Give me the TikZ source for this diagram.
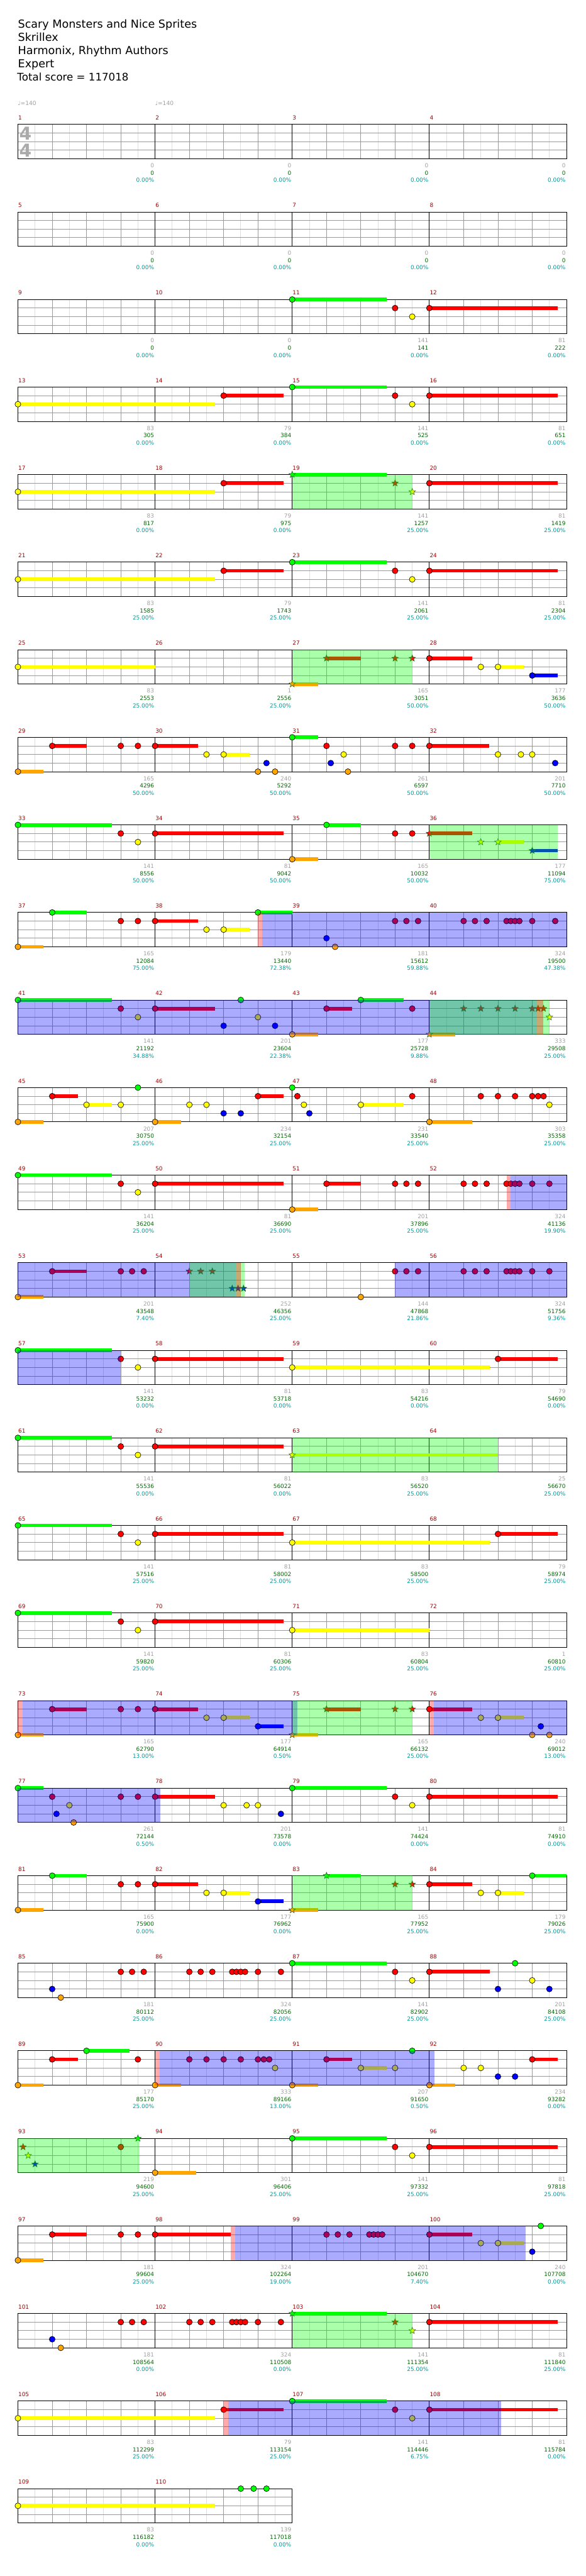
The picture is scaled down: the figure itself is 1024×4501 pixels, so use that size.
\documentclass[tikz,border=0pt]{standalone}
\usepackage{fontspec}
\setmainfont{DejaVu Sans}
\usetikzlibrary{shapes.geometric}
\definecolor{ln0}{HTML}{00FF00}
\definecolor{ln1}{HTML}{FF0000}
\definecolor{ln2}{HTML}{FFFF00}
\definecolor{ln3}{HTML}{0000FF}
\definecolor{ln4}{HTML}{FFA500}
\definecolor{gridq}{HTML}{999999}
\definecolor{gride}{HTML}{DDDDDD}
\definecolor{mnumc}{HTML}{990000}
\definecolor{statgray}{HTML}{A0A0A0}
\definecolor{statgreen}{HTML}{006600}
\definecolor{statteal}{HTML}{009999}
\definecolor{stargreen}{HTML}{1E5A1E}
\definecolor{tsig}{HTML}{AAAAAA}
\tikzset{
  nhead/.style={circle, draw=black, line width=0.7pt, minimum size=10.2pt, inner sep=0pt},
  nstar/.style={star, star points=5, star point ratio=2.3, draw=stargreen, line width=0.6pt, minimum size=12pt, inner sep=0pt},
  gE/.style={gride, line width=1pt},
  gQ/.style={gridq, line width=1pt},
  barl/.style={black, line width=1pt},
  mnum/.style={anchor=base west, inner sep=0pt, text=mnumc, font=\fontsize{9.8}{10}\selectfont},
  stA/.style={anchor=base east, inner sep=0pt, text=statgray, font=\fontsize{9.8}{10}\selectfont},
  stB/.style={anchor=base east, inner sep=0pt, text=statgreen, font=\fontsize{9.8}{10}\selectfont},
  stC/.style={anchor=base east, inner sep=0pt, text=statteal, font=\fontsize{9.8}{10}\selectfont},
  titl/.style={anchor=base west, inner sep=0pt, font=\fontsize{19.3}{22}\selectfont}
}
\newcommand\bx[1]{31.3+59.925*(#1)}
\newcommand\ly[2]{217.3+153*(#1)+15*(#2)}
\newcommand\nHead[3]{\node[nhead, fill=ln#3] at ({\bx{#2}},{\ly{#1}{#3}}) {};}
\newcommand\nSus[4]{\fill[ln#3] ({\bx{#2}},{\ly{#1}{#3}-3.2}) rectangle ({\bx{#4}},{\ly{#1}{#3}+3.2});\nHead{#1}{#2}{#3}}
\newcommand\nStar[3]{\node[nstar, fill=ln#3] at ({\bx{#2}},{\ly{#1}{#3}}) {};}
\newcommand\nStarSus[4]{\fill[ln#3] ({\bx{#2}},{\ly{#1}{#3}-3.2}) rectangle ({\bx{#4}},{\ly{#1}{#3}+3.2});\nStar{#1}{#2}{#3}}
\newcommand\spG[3]{\fill[green, opacity=0.333] ({\bx{#2}},{\ly{#1}{0}}) rectangle ({\bx{#3}},{\ly{#1}{4}});}
\newcommand\spB[3]{\fill[blue, opacity=0.333] ({\bx{#2}},{\ly{#1}{0}}) rectangle ({\bx{#3}},{\ly{#1}{4}});}
\newcommand\spR[3]{\fill[red, opacity=0.333] ({\bx{#2}},{\ly{#1}{0}}) rectangle ({\bx{#3}},{\ly{#1}{4}});}
\newcommand\mStats[5]{%
  \node[stA] at ({31.3+239.7*(#2)-1.5},{217.3+153*(#1)+75.5}) {#3};
  \node[stB] at ({31.3+239.7*(#2)-1.5},{217.3+153*(#1)+88.5}) {#4};
  \node[stC] at ({31.3+239.7*(#2)-1.5},{217.3+153*(#1)+101}) {#5\%};}
\newcommand\drawStaff[3]{%
  \pgfmathsetmacro\ty{217.3+153*#1}
  \pgfmathtruncatemacro\ne{8*#2}
  \pgfmathtruncatemacro\nq{4*#2}
  \pgfmathtruncatemacro\nm{#2-1}
  \pgfmathsetmacro\xr{31.3+239.7*#2}
  \foreach \i in {1,...,\ne} {\draw[gE] ({31.3+29.9625*\i},\ty) -- ++(0,60);}
  \foreach \i in {1,...,\nq} {\draw[gQ] ({31.3+59.925*\i},\ty) -- ++(0,60);}
  \foreach \j in {1,2,3} {\draw[gQ] (31.3,{\ty+15*\j}) -- (\xr,{\ty+15*\j});}
  \foreach \k in {0,...,\nm} {%
    \draw[barl] ({31.3+239.7*\k},\ty) -- ++(0,60);
    \pgfmathtruncatemacro\mn{#3+\k}
    \node[mnum] at ({31.8+239.7*\k},{\ty-8}) {\mn};}
  \draw[barl] (31.3,\ty) rectangle (\xr,{\ty+60});
}
\begin{document}
\begin{tikzpicture}[x=1pt,y=-1pt]
\useasboundingbox (0,0) rectangle (1024,4501);
\fill[white] (0,0) rectangle (1024,4501);
% header
\node[titl] (t1) at (31.3,49.3) {Scary Monsters and Nice Sprites};
\node[titl] (t2) at (31.3,72.3) {Skrillex};
\node[titl] (t3) at (31.3,95.3) {Harmonix, Rhythm Authors};
\node[titl] (t4) at (31.3,118.3) {Expert};
\node[titl, font=\fontsize{18.3}{22}\selectfont] (t5) at (30,141.3) {Total score = 117018};
\node[anchor=base west, inner sep=0pt, text=statgray, font=\fontsize{10}{10}\selectfont] (tp1) at (31,184) {♩=140};
\node[anchor=base west, inner sep=0pt, text=statgray, font=\fontsize{10}{10}\selectfont] (tp2) at (271,184) {♩=140};
% row 0
\drawStaff{0}{4}{1}
\node[text=tsig, font=\bfseries\fontsize{31}{31}\selectfont, inner sep=0pt] (ts1) at (44.5,233.6) {4};
\node[text=tsig, font=\bfseries\fontsize{31}{31}\selectfont, inner sep=0pt] (ts2) at (44.5,262.6) {4};
\mStats{0}{1}{0}{0}{0.00}\mStats{0}{2}{0}{0}{0.00}\mStats{0}{3}{0}{0}{0.00}\mStats{0}{4}{0}{0}{0.00}
% row 1
\drawStaff{1}{4}{5}
\mStats{1}{1}{0}{0}{0.00}\mStats{1}{2}{0}{0}{0.00}\mStats{1}{3}{0}{0}{0.00}\mStats{1}{4}{0}{0}{0.00}
% row 2
\drawStaff{2}{4}{9}
\nSus{2}{8}{0}{10.75}\nHead{2}{11}{1}\nHead{2}{11.5}{2}\nSus{2}{12}{1}{15.74}
\mStats{2}{1}{0}{0}{0.00}\mStats{2}{2}{0}{0}{0.00}\mStats{2}{3}{141}{141}{0.00}\mStats{2}{4}{81}{222}{0.00}
% row 3
\drawStaff{3}{4}{13}
\nSus{3}{0}{2}{5.75}\nSus{3}{6}{1}{7.75}\nSus{3}{8}{0}{10.75}\nHead{3}{11}{1}\nHead{3}{11.5}{2}\nSus{3}{12}{1}{15.74}
\mStats{3}{1}{83}{305}{0.00}\mStats{3}{2}{79}{384}{0.00}\mStats{3}{3}{141}{525}{0.00}\mStats{3}{4}{81}{651}{0.00}
% row 4
\drawStaff{4}{4}{17}
\nSus{4}{0}{2}{5.75}\nSus{4}{6}{1}{7.75}\nStarSus{4}{8}{0}{10.75}\nStar{4}{11}{1}\nStar{4}{11.5}{2}\nSus{4}{12}{1}{15.74}
\spG{4}{8}{11.5}
\mStats{4}{1}{83}{817}{0.00}\mStats{4}{2}{79}{975}{0.00}\mStats{4}{3}{141}{1257}{25.00}\mStats{4}{4}{81}{1419}{25.00}
% row 5
\drawStaff{5}{4}{21}
\nSus{5}{0}{2}{5.75}\nSus{5}{6}{1}{7.75}\nSus{5}{8}{0}{10.75}\nHead{5}{11}{1}\nHead{5}{11.5}{2}\nSus{5}{12}{1}{15.74}
\mStats{5}{1}{83}{1585}{25.00}\mStats{5}{2}{79}{1743}{25.00}\mStats{5}{3}{141}{2061}{25.00}\mStats{5}{4}{81}{2304}{25.00}
% row 6
\drawStaff{6}{4}{25}
\nSus{6}{0}{2}{4}\nStarSus{6}{8}{4}{8.75}\nStarSus{6}{9}{1}{10}\nStar{6}{11}{1}\nStar{6}{11.5}{1}
\nSus{6}{12}{1}{13.25}\nHead{6}{13.5}{2}\nSus{6}{14}{2}{14.75}\nSus{6}{15}{3}{15.74}
\spG{6}{8}{11.5}
\mStats{6}{1}{83}{2553}{25.00}\mStats{6}{2}{1}{2556}{25.00}\mStats{6}{3}{165}{3051}{50.00}\mStats{6}{4}{177}{3636}{50.00}
% row 7
\drawStaff{7}{4}{29}
\nSus{7}{0}{4}{0.75}\nSus{7}{1}{1}{2}\nHead{7}{3}{1}\nHead{7}{3.5}{1}\nSus{7}{4}{1}{5.25}\nHead{7}{5.5}{2}\nSus{7}{6}{2}{6.75}
\nHead{7}{7}{4}\nHead{7}{7.25}{3}\nHead{7}{7.5}{4}\nSus{7}{8}{0}{8.75}\nHead{7}{9}{1}\nHead{7}{9.125}{3}\nHead{7}{9.5}{2}\nHead{7}{9.625}{4}
\nHead{7}{11}{1}\nHead{7}{11.5}{1}\nSus{7}{12}{1}{13.75}\nHead{7}{14}{2}\nHead{7}{14.67}{2}\nHead{7}{15}{2}\nHead{7}{15.67}{3}
\mStats{7}{1}{165}{4296}{50.00}\mStats{7}{2}{240}{5292}{50.00}\mStats{7}{3}{261}{6597}{50.00}\mStats{7}{4}{201}{7710}{50.00}
% row 8
\drawStaff{8}{4}{33}
\nSus{8}{0}{0}{2.75}\nHead{8}{3}{1}\nHead{8}{3.5}{2}\nSus{8}{4}{1}{7.74}\nSus{8}{8}{4}{8.75}\nSus{8}{9}{0}{10}\nHead{8}{11}{1}\nHead{8}{11.5}{1}
\nStarSus{8}{12}{1}{13.25}\nStar{8}{13.5}{2}\nStarSus{8}{14}{2}{14.75}\nStarSus{8}{15}{3}{15.74}
\spG{8}{12}{15.74}
\mStats{8}{1}{141}{8556}{50.00}\mStats{8}{2}{81}{9042}{50.00}\mStats{8}{3}{165}{10032}{50.00}\mStats{8}{4}{177}{11094}{75.00}
% row 9
\drawStaff{9}{4}{37}
\nSus{9}{0}{4}{0.75}\nSus{9}{1}{0}{2}\nHead{9}{3}{1}\nHead{9}{3.5}{1}\nSus{9}{4}{1}{5.25}\nHead{9}{5.5}{2}\nSus{9}{6}{2}{6.75}\nSus{9}{7}{0}{8}
\nHead{9}{9}{3}\nHead{9}{9.25}{4}
\foreach \b in {11,11.33,11.67,13,13.33,13.67,14.25,14.375,14.5,14.625,15,15.67} {\nHead{9}{\b}{1}}
\spR{9}{7}{7.13}\spB{9}{7.13}{16}
\mStats{9}{1}{165}{12084}{75.00}\mStats{9}{2}{179}{13440}{72.38}\mStats{9}{3}{181}{15612}{59.88}\mStats{9}{4}{324}{19500}{47.38}
% row 10
\drawStaff{10}{4}{41}
\nSus{10}{0}{0}{2.75}\nHead{10}{3}{1}\nHead{10}{3.5}{2}\nSus{10}{4}{1}{5.75}\nHead{10}{6}{3}\nHead{10}{6.5}{0}\nHead{10}{7}{2}\nHead{10}{7.5}{3}
\nSus{10}{8}{4}{8.75}\nSus{10}{9}{1}{9.75}\nSus{10}{10}{0}{11.25}\nHead{10}{11.5}{1}\nStarSus{10}{12}{4}{12.75}
\foreach \b in {13,13.5,14,14.5,15,15.17,15.33} {\nStar{10}{\b}{1}}
\nStar{10}{15.5}{2}
\spB{10}{0}{15.14}\spG{10}{12}{15.5}\spR{10}{15.14}{15.33}
\mStats{10}{1}{141}{21192}{34.88}\mStats{10}{2}{201}{23604}{22.38}\mStats{10}{3}{177}{25728}{9.88}\mStats{10}{4}{333}{29508}{25.00}
% row 11
\drawStaff{11}{4}{45}
\nSus{11}{0}{4}{0.75}\nSus{11}{1}{1}{1.75}\nSus{11}{2}{2}{2.75}\nHead{11}{3}{2}\nHead{11}{3.5}{0}\nSus{11}{4}{4}{4.75}
\nHead{11}{5}{2}\nHead{11}{5.5}{2}\nHead{11}{6}{3}\nHead{11}{6.5}{3}\nSus{11}{7}{1}{7.75}\nHead{11}{8}{0}\nHead{11}{8.15}{1}\nHead{11}{8.34}{2}\nHead{11}{8.5}{3}
\nSus{11}{10}{2}{11.25}\nHead{11}{11.5}{1}\nSus{11}{12}{4}{13.25}
\foreach \b in {13.5,14,14.5,15,15.17,15.33} {\nHead{11}{\b}{1}}
\nHead{11}{15.5}{2}
\mStats{11}{1}{207}{30750}{25.00}\mStats{11}{2}{234}{32154}{25.00}\mStats{11}{3}{231}{33540}{25.00}\mStats{11}{4}{303}{35358}{25.00}
% row 12
\drawStaff{12}{4}{49}
\nSus{12}{0}{0}{2.75}\nHead{12}{3}{1}\nHead{12}{3.5}{2}\nSus{12}{4}{1}{7.74}\nSus{12}{8}{4}{8.75}\nSus{12}{9}{1}{10}
\foreach \b in {11,11.33,11.67,13,13.33,13.67,14.25,14.375,14.5,14.625,15,15.5} {\nHead{12}{\b}{1}}
\spR{12}{14.26}{14.37}\spB{12}{14.37}{16}
\mStats{12}{1}{141}{36204}{25.00}\mStats{12}{2}{81}{36690}{25.00}\mStats{12}{3}{201}{37896}{25.00}\mStats{12}{4}{324}{41136}{19.90}
% row 13
\drawStaff{13}{4}{53}
\nSus{13}{0}{4}{0.75}\nSus{13}{1}{1}{2}\nHead{13}{3}{1}\nHead{13}{3.33}{1}\nHead{13}{3.67}{1}
\nStar{13}{5}{1}\nStar{13}{5.33}{1}\nStar{13}{5.67}{1}\nStar{13}{6.25}{3}\nStar{13}{6.42}{3}\nStar{13}{6.58}{3}
\nHead{13}{10}{4}
\foreach \b in {11,11.33,11.67,13,13.33,13.67,14.25,14.375,14.5,14.625,15,15.5} {\nHead{13}{\b}{1}}
\spB{13}{0}{6.36}\spG{13}{5}{6.61}\spR{13}{6.36}{6.5}\spB{13}{11}{16}
\mStats{13}{1}{201}{43548}{7.40}\mStats{13}{2}{252}{46356}{25.00}\mStats{13}{3}{144}{47868}{21.86}\mStats{13}{4}{324}{51756}{9.36}
% row 14
\drawStaff{14}{4}{57}
\nSus{14}{0}{0}{2.75}\nHead{14}{3}{1}\nHead{14}{3.5}{2}\nSus{14}{4}{1}{7.74}\nSus{14}{8}{2}{13.76}\nSus{14}{14}{1}{15.74}
\spB{14}{0}{3}
\mStats{14}{1}{141}{53232}{0.00}\mStats{14}{2}{81}{53718}{0.00}\mStats{14}{3}{83}{54216}{0.00}\mStats{14}{4}{79}{54690}{0.00}
% row 15
\drawStaff{15}{4}{61}
\nSus{15}{0}{0}{2.75}\nHead{15}{3}{1}\nHead{15}{3.5}{2}\nSus{15}{4}{1}{7.74}\nStarSus{15}{8}{2}{14}
\spG{15}{8}{14}
\mStats{15}{1}{141}{55536}{0.00}\mStats{15}{2}{81}{56022}{0.00}\mStats{15}{3}{83}{56520}{25.00}\mStats{15}{4}{25}{56670}{25.00}
% row 16
\drawStaff{16}{4}{65}
\nSus{16}{0}{0}{2.75}\nHead{16}{3}{1}\nHead{16}{3.5}{2}\nSus{16}{4}{1}{7.74}\nSus{16}{8}{2}{13.76}\nSus{16}{14}{1}{15.74}
\mStats{16}{1}{141}{57516}{25.00}\mStats{16}{2}{81}{58002}{25.00}\mStats{16}{3}{83}{58500}{25.00}\mStats{16}{4}{79}{58974}{25.00}
% row 17
\drawStaff{17}{4}{69}
\nSus{17}{0}{0}{2.75}\nHead{17}{3}{1}\nHead{17}{3.5}{2}\nSus{17}{4}{1}{7.74}\nSus{17}{8}{2}{12}
\mStats{17}{1}{141}{59820}{25.00}\mStats{17}{2}{81}{60306}{25.00}\mStats{17}{3}{83}{60804}{25.00}\mStats{17}{4}{1}{60810}{25.00}
% row 18
\drawStaff{18}{4}{73}
\nSus{18}{0}{4}{0.75}\nSus{18}{1}{1}{2}\nHead{18}{3}{1}\nHead{18}{3.5}{1}\nSus{18}{4}{1}{5.25}\nHead{18}{5.5}{2}\nSus{18}{6}{2}{6.75}\nSus{18}{7}{3}{7.74}
\nStarSus{18}{8}{4}{8.75}\nStarSus{18}{9}{1}{10}\nStar{18}{11}{1}\nStar{18}{11.5}{1}
\nSus{18}{12}{1}{13.25}\nHead{18}{13.5}{2}\nSus{18}{14}{2}{14.75}\nHead{18}{15}{4}\nHead{18}{15.25}{3}\nHead{18}{15.5}{4}
\spR{18}{0}{0.13}\spB{18}{0.13}{8.15}\spG{18}{8}{11.5}\spR{18}{12}{12.13}\spB{18}{12.13}{16}
\mStats{18}{1}{165}{62790}{13.00}\mStats{18}{2}{177}{64914}{0.50}\mStats{18}{3}{165}{66132}{25.00}\mStats{18}{4}{240}{69012}{13.00}
% row 19
\drawStaff{19}{4}{77}
\nSus{19}{0}{0}{0.75}\nHead{19}{1}{1}\nHead{19}{1.125}{3}\nHead{19}{1.5}{2}\nHead{19}{1.625}{4}\nHead{19}{3}{1}\nHead{19}{3.5}{1}\nSus{19}{4}{1}{5.75}
\nHead{19}{6}{2}\nHead{19}{6.67}{2}\nHead{19}{7}{2}\nHead{19}{7.67}{3}\nSus{19}{8}{0}{10.75}\nHead{19}{11}{1}\nHead{19}{11.5}{2}\nSus{19}{12}{1}{15.74}
\spB{19}{0}{4.15}
\mStats{19}{1}{261}{72144}{0.50}\mStats{19}{2}{201}{73578}{0.00}\mStats{19}{3}{141}{74424}{0.00}\mStats{19}{4}{81}{74910}{0.00}
% row 20
\drawStaff{20}{4}{81}
\nSus{20}{0}{4}{0.75}\nSus{20}{1}{0}{2}\nHead{20}{3}{1}\nHead{20}{3.5}{1}\nSus{20}{4}{1}{5.25}\nHead{20}{5.5}{2}\nSus{20}{6}{2}{6.75}\nSus{20}{7}{3}{7.74}
\nStarSus{20}{8}{4}{8.75}\nStarSus{20}{9}{0}{10}\nStar{20}{11}{1}\nStar{20}{11.5}{1}
\nSus{20}{12}{1}{13.25}\nHead{20}{13.5}{2}\nSus{20}{14}{2}{14.75}\nSus{20}{15}{0}{16}
\spG{20}{8}{11.5}
\mStats{20}{1}{165}{75900}{0.00}\mStats{20}{2}{177}{76962}{0.00}\mStats{20}{3}{165}{77952}{25.00}\mStats{20}{4}{179}{79026}{25.00}
% row 21
\drawStaff{21}{4}{85}
\nHead{21}{1}{3}\nHead{21}{1.25}{4}
\foreach \b in {3,3.33,3.67,5,5.33,5.67,6.25,6.375,6.5,6.625,7,7.67} {\nHead{21}{\b}{1}}
\nSus{21}{8}{0}{10.75}\nHead{21}{11}{1}\nHead{21}{11.5}{2}\nSus{21}{12}{1}{13.76}\nHead{21}{14}{3}\nHead{21}{14.5}{0}\nHead{21}{15}{2}\nHead{21}{15.5}{3}
\mStats{21}{1}{181}{80112}{25.00}\mStats{21}{2}{324}{82056}{25.00}\mStats{21}{3}{141}{82902}{25.00}\mStats{21}{4}{201}{84108}{25.00}
% row 22
\drawStaff{22}{4}{89}
\nSus{22}{0}{4}{0.75}\nSus{22}{1}{1}{1.75}\nSus{22}{2}{0}{3.25}\nHead{22}{3.5}{1}\nSus{22}{4}{4}{4.75}
\foreach \b in {5,5.5,6,6.5,7,7.17,7.33} {\nHead{22}{\b}{1}}
\nHead{22}{7.5}{2}\nSus{22}{8}{4}{8.75}\nSus{22}{9}{1}{9.75}\nSus{22}{10}{2}{10.75}\nHead{22}{11}{2}\nHead{22}{11.5}{0}\nSus{22}{12}{4}{12.75}
\nHead{22}{13}{2}\nHead{22}{13.5}{2}\nHead{22}{14}{3}\nHead{22}{14.5}{3}\nSus{22}{15}{1}{15.74}
\spR{22}{4}{4.14}\spB{22}{4.14}{12.15}
\mStats{22}{1}{177}{85170}{25.00}\mStats{22}{2}{333}{89166}{13.00}\mStats{22}{3}{207}{91650}{0.50}\mStats{22}{4}{234}{93282}{0.00}
% row 23 (approximate)
\drawStaff{23}{4}{93}
\nStar{23}{0.15}{1}\nStar{23}{0.3}{2}\nStar{23}{0.5}{3}\nHead{23}{3}{1}\nStar{23}{3.5}{0}\nSus{23}{4}{4}{5.2}
\nSus{23}{8}{0}{10.75}\nHead{23}{11}{1}\nHead{23}{11.5}{2}\nSus{23}{12}{1}{15.74}
\spG{23}{0}{3.55}
\mStats{23}{1}{219}{94600}{25.00}\mStats{23}{2}{301}{96406}{25.00}\mStats{23}{3}{141}{97332}{25.00}\mStats{23}{4}{81}{97818}{25.00}
% row 24 (approximate)
\drawStaff{24}{4}{97}
\nSus{24}{0}{4}{0.75}\nSus{24}{1}{1}{2}\nHead{24}{3}{1}\nHead{24}{3.5}{1}\nSus{24}{4}{1}{6.2}
\foreach \b in {9,9.33,9.67,10.25,10.375,10.5,10.625} {\nHead{24}{\b}{1}}
\nSus{24}{12}{1}{13.25}\nHead{24}{13.5}{2}\nSus{24}{14}{2}{14.75}\nHead{24}{15}{3}\nHead{24}{15.25}{0}
\spR{24}{6.2}{6.33}\spB{24}{6.33}{14.8}
\mStats{24}{1}{181}{99604}{25.00}\mStats{24}{2}{324}{102264}{19.00}\mStats{24}{3}{201}{104670}{7.40}\mStats{24}{4}{240}{107708}{0.00}
% row 25 (approximate)
\drawStaff{25}{4}{101}
\nHead{25}{1}{3}\nHead{25}{1.25}{4}
\foreach \b in {3,3.33,3.67,5,5.33,5.67,6.25,6.375,6.5,6.625,7,7.67} {\nHead{25}{\b}{1}}
\nStarSus{25}{8}{0}{10.75}\nStar{25}{11}{1}\nStar{25}{11.5}{2}\nSus{25}{12}{1}{15.74}
\spG{25}{8}{11.5}
\mStats{25}{1}{181}{108564}{0.00}\mStats{25}{2}{324}{110508}{0.00}\mStats{25}{3}{141}{111354}{25.00}\mStats{25}{4}{81}{111840}{25.00}
% row 26 (approximate)
\drawStaff{26}{4}{105}
\nSus{26}{0}{2}{5.75}\nSus{26}{6}{1}{7.75}\nSus{26}{8}{0}{10.75}\nHead{26}{11}{1}\nHead{26}{11.5}{2}\nSus{26}{12}{1}{15.74}
\spR{26}{6}{6.13}\spB{26}{6.13}{14.1}
\mStats{26}{1}{83}{112299}{25.00}\mStats{26}{2}{79}{113154}{25.00}\mStats{26}{3}{141}{114446}{6.75}\mStats{26}{4}{81}{115784}{0.00}
% row 27 (approximate)
\drawStaff{27}{2}{109}
\nSus{27}{0}{2}{5.75}\nHead{27}{6.5}{0}\nHead{27}{6.875}{0}\nHead{27}{7.25}{0}
\mStats{27}{1}{83}{116182}{0.00}\mStats{27}{2}{139}{117018}{0.00}
\end{tikzpicture}
\end{document}
